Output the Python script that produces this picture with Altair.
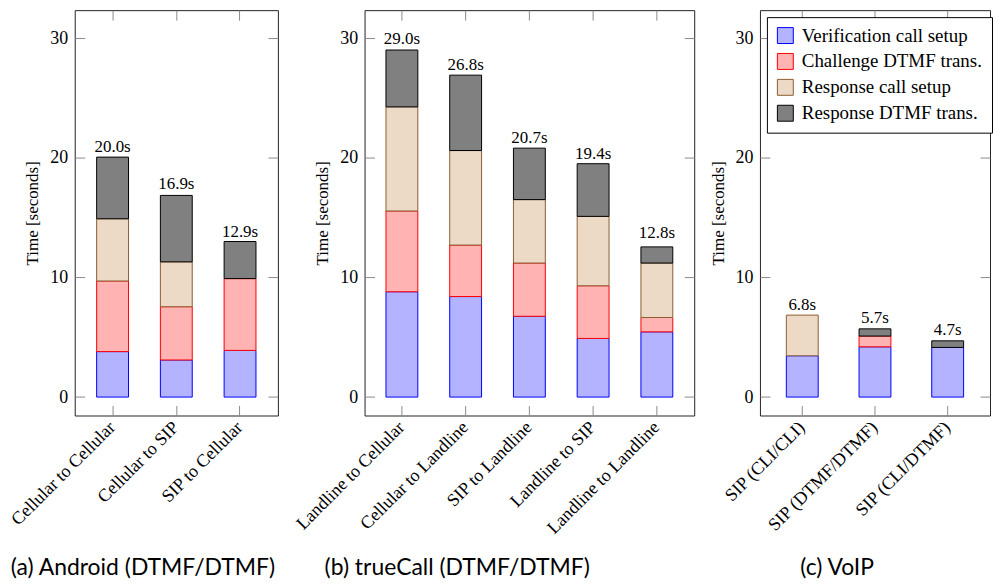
import altair as alt
import pandas as pd

SERIF = "Liberation Serif"
SANS = "Lato"
TICK = "#8a8a8a"

series = ["Verification call setup", "Challenge DTMF trans.", "Response call setup", "Response DTMF trans."]
fill_colors = ["#b3b3ff", "#ffb3b3", "#ecd9c6", "#808080"]
stroke_colors = ["#0000ff", "#ff0000", "#8b5e34", "#000000"]

# (a) Android
android_cats = ["Cellular to Cellular", "Cellular to SIP", "SIP to Cellular"]
android_verif = [3.8, 3.1, 3.9]
android_chal = [5.9, 4.45, 6.0]
android_resp = [5.2, 3.75, 0.0]
android_rdtmf = [5.15, 5.55, 3.1]
android_totals = [20.0, 16.9, 12.9]

# (b) trueCall
truecall_cats = ["Landline to Cellular", "Cellular to Landline", "SIP to Landline", "Landline to SIP", "Landline to Landline"]
truecall_verif = [8.8, 8.4, 6.75, 4.9, 5.45]
truecall_chal = [6.75, 4.3, 4.45, 4.4, 1.2]
truecall_resp = [8.7, 7.9, 5.3, 5.8, 4.55]
truecall_rdtmf = [4.75, 6.3, 4.3, 4.4, 1.35]
truecall_totals = [29.0, 26.8, 20.7, 19.4, 12.8]

# (c) VoIP
voip_cats = ["SIP (CLI/CLI)", "SIP (DTMF/DTMF)", "SIP (CLI/DTMF)"]
voip_verif = [3.45, 4.2, 4.15]
voip_chal = [0.0, 0.9, 0.0]
voip_resp = [3.4, 0.0, 0.0]
voip_rdtmf = [0.0, 0.6, 0.55]
voip_totals = [6.8, 5.7, 4.7]

y_ticks = [0, 10, 20, 30]
y_domain = [-1.54, 32.33]
H = 407


def build_df(cats, segs):
    rows = []
    for i, c in enumerate(cats):
        for k, vals in enumerate(segs):
            if vals[i] > 0:
                rows.append({"cat": c, "series": series[k], "order": k, "value": vals[i]})
    return pd.DataFrame(rows)


def panel(cats, segs, totals, caption, width, pad_inner, pad_outer, cap_x, show_legend):
    df = build_df(cats, segs)
    tdf = pd.DataFrame({"cat": cats, "total": totals,
                        "label": [f"{t:.1f}s" for t in totals]})
    xscale = alt.Scale(paddingInner=pad_inner, paddingOuter=pad_outer)
    yscale = alt.Scale(domain=y_domain, nice=False, zero=False)
    if show_legend:
        leg = alt.Legend(title=None, orient="none", legendX=7, legendY=7,
                         symbolType="square", symbolSize=256, symbolStrokeWidth=1,
                         labelFont=SERIF, labelFontSize=19, labelColor="black",
                         labelOffset=7, rowPadding=5, padding=9,
                         strokeColor="black", fillColor="white", labelLimit=400)
    else:
        leg = None
    bars = alt.Chart(df).mark_bar(strokeWidth=1).encode(
        x=alt.X("cat:N", sort=cats, scale=xscale,
                axis=alt.Axis(orient="bottom", offset=-10, tickSize=10, domain=False,
                              labelAngle=315, labelAlign="right", labelBaseline="middle",
                              labelPadding=9, labelFont=SERIF, labelFontSize=18,
                              labelColor="black", tickColor=TICK, labelLimit=400,
                              title=caption, titleFont=SANS, titleFontSize=23,
                              titleFontWeight="normal", titleX=cap_x, titleY=163,
                              titleAlign="center", titleBaseline="middle",
                              titleColor="black")),
        y=alt.Y("value:Q", stack="zero", scale=yscale,
                axis=alt.Axis(orient="left", values=y_ticks, offset=-10, tickSize=10,
                              domain=False, grid=False, labelPadding=7,
                              labelFont=SERIF, labelFontSize=18, labelColor="black",
                              tickColor=TICK, title="Time [seconds]", titleFont=SERIF,
                              titleFontSize=17, titleFontWeight="normal",
                              titleColor="black", titlePadding=8)),
        fill=alt.Fill("series:N", scale=alt.Scale(domain=series, range=fill_colors), legend=leg),
        stroke=alt.Stroke("series:N", scale=alt.Scale(domain=series, range=stroke_colors), legend=leg),
        order=alt.Order("order:Q"),
    )
    text = alt.Chart(tdf).mark_text(font=SERIF, fontSize=17, dy=-6,
                                    baseline="alphabetic", color="black").encode(
        x=alt.X("cat:N", sort=cats, scale=xscale,
                axis=alt.Axis(orient="top", offset=-10, tickSize=10, domain=False,
                              labels=False, title=None, tickColor=TICK)),
        y=alt.Y("total:Q", scale=yscale,
                axis=alt.Axis(orient="right", values=y_ticks, offset=-10, tickSize=10,
                              domain=False, grid=False, labels=False, title=None,
                              tickColor=TICK)),
        text="label:N",
    )
    return alt.layer(bars, text).resolve_axis(x="independent", y="independent").properties(
        width=width, height=H)


pa = panel(android_cats, [android_verif, android_chal, android_resp, android_rdtmf],
           android_totals, "(a) Android (DTMF/DTMF)", 204, 0.5, 0.344, 68, False)
pb = panel(truecall_cats, [truecall_verif, truecall_chal, truecall_resp, truecall_rdtmf],
           truecall_totals, "(b) trueCall (DTMF/DTMF)", 331, 0.5, 0.336, 92.5, False)
pc = panel(voip_cats, [voip_verif, voip_chal, voip_resp, voip_rdtmf],
           voip_totals, "(c) VoIP", 231, 0.5616, 0.363, 77, True)

chart = alt.hconcat(pa, pb, pc, spacing=13).resolve_scale(
    fill="independent", stroke="independent").resolve_legend(
    fill="independent", stroke="independent").properties(
    padding={"left": -1, "top": 0, "right": 0, "bottom": 0}
).configure_view(stroke="#222222", strokeWidth=1)

chart.save("out.html", embed_options={"renderer": "svg", "actions": False})
